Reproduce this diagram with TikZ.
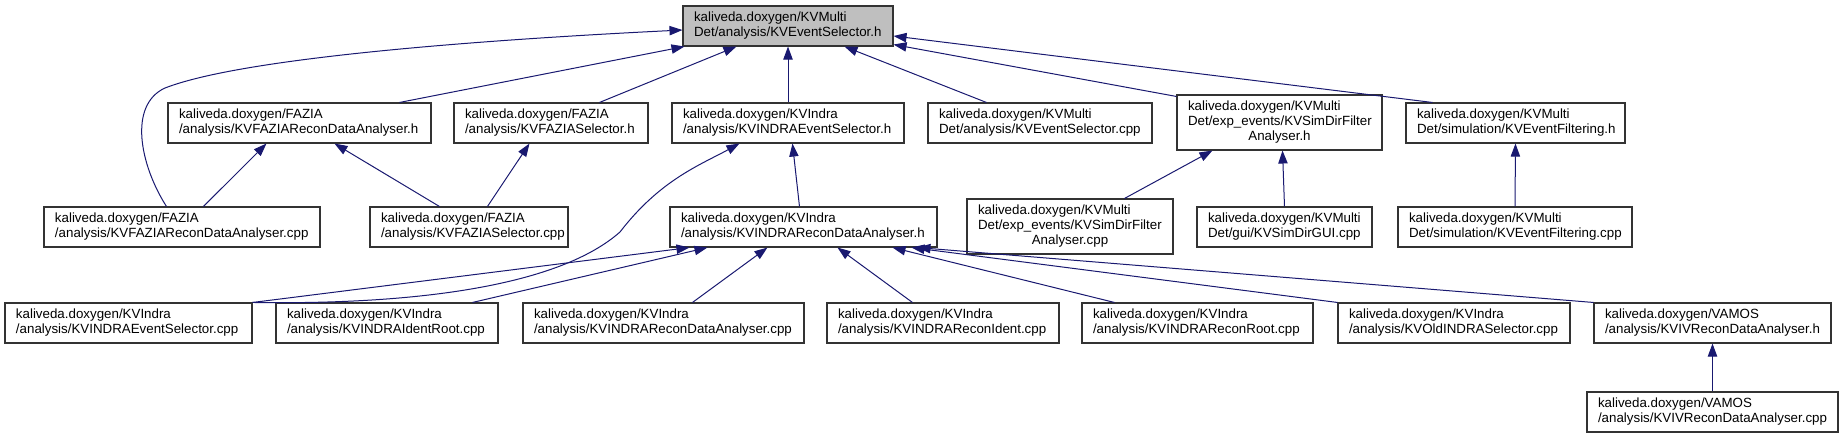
\documentclass[tikz,border=0pt]{standalone}
\usepackage{fontspec}
\setmainfont{Liberation Sans}
\usetikzlibrary{arrows.meta, calc}
\hyphenpenalty=10000
\exhyphenpenalty=10000
\definecolor{edge}{HTML}{191970}
\definecolor{frame}{HTML}{333333}
\definecolor{focusbg}{HTML}{BFBFBF}
\tikzset{
  file/.style={
    draw=frame,
    fill=white,
    line width=0.8pt,
    align=left,
    inner xsep=8.25pt,
    inner ysep=0pt,
    minimum height=30pt,
    font=\fontsize{10pt}{11.25pt}\selectfont
  },
  tall/.style={file, minimum height=41.25pt},
  focus/.style={file, fill=focusbg},
  dep/.style={{Triangle[length=9.75pt, width=7pt, fill=edge]}-, line width=0.75pt, draw=edge}
}

\begin{document}
\begin{tikzpicture}[x=0.75pt, y=-0.75pt]

\useasboundingbox (0,0) rectangle (1843,439);

\node[focus, text width=141pt] (evsel) at (788,26) {
  kaliveda.doxygen/KVMulti\\Det/analysis/KVEventSelector.h};

\node[file, text width=180.75pt] (faziarecon) at (299.5,123) {
  kaliveda.doxygen/FAZIA\\/analysis/KVFAZIAReconDataAnalyser.h};
\node[file, text width=129pt] (fazsel) at (551,123) {
  kaliveda.doxygen/FAZIA\\/analysis/KVFAZIASelector.h};
\node[file, text width=157.5pt] (indraevsel) at (788,123) {
  kaliveda.doxygen/KVIndra\\/analysis/KVINDRAEventSelector.h};
\node[file, text width=151.5pt] (evselcpp) at (1040,123) {
  kaliveda.doxygen/KVMulti\\Det/analysis/KVEventSelector.cpp};
\node[tall, text width=137.25pt] (simfilt) at (1279.5,122.5) {
  kaliveda.doxygen/KVMulti\\Det/exp\_events/KVSimDirFilter\\\makebox[\hsize]{Analyser.h}};
\node[file, text width=147.75pt] (evfilt) at (1515.5,123) {
  kaliveda.doxygen/KVMulti\\Det/simulation/KVEventFiltering.h};

\node[file, text width=190.5pt] (faziareconcpp) at (182,227) {
  kaliveda.doxygen/FAZIA\\/analysis/KVFAZIAReconDataAnalyser.cpp};
\node[file, text width=132pt] (fazselcpp) at (469,227) {
  kaliveda.doxygen/FAZIA\\/analysis/KVFAZIASelector.cpp};
\node[file, text width=183.75pt] (indrarecon) at (803.5,227) {
  kaliveda.doxygen/KVIndra\\/analysis/KVINDRAReconDataAnalyser.h};
\node[tall, text width=138pt] (simfiltcpp) at (1070,226.5) {
  kaliveda.doxygen/KVMulti\\Det/exp\_events/KVSimDirFilter\\\makebox[\hsize]{Analyser.cpp}};
\node[file, text width=114.75pt] (simgui) at (1284.5,227) {
  kaliveda.doxygen/KVMulti\\Det/gui/KVSimDirGUI.cpp};
\node[file, text width=159pt] (evfiltcpp) at (1515,227) {
  kaliveda.doxygen/KVMulti\\Det/simulation/KVEventFiltering.cpp};

\node[file, text width=168.75pt] (indraevselcpp) at (128.5,323) {
  kaliveda.doxygen/KVIndra\\/analysis/KVINDRAEventSelector.cpp};
\node[file, text width=150pt] (identroot) at (387,323) {
  kaliveda.doxygen/KVIndra\\/analysis/KVINDRAIdentRoot.cpp};
\node[file, text width=194.25pt] (indrareconcpp) at (663.5,323) {
  kaliveda.doxygen/KVIndra\\/analysis/KVINDRAReconDataAnalyser.cpp};
\node[file, text width=157.5pt] (reconident) at (943,323) {
  kaliveda.doxygen/KVIndra\\/analysis/KVINDRAReconIdent.cpp};
\node[file, text width=156.75pt] (reconroot) at (1197.5,323) {
  kaliveda.doxygen/KVIndra\\/analysis/KVINDRAReconRoot.cpp};
\node[file, text width=157.5pt] (oldsel) at (1454,323) {
  kaliveda.doxygen/KVIndra\\/analysis/KVOldINDRASelector.cpp};
\node[file, text width=161.25pt] (ivrecon) at (1712.5,323) {
  kaliveda.doxygen/VAMOS\\/analysis/KVIVReconDataAnalyser.h};

\node[file, text width=171.75pt] (ivreconcpp) at (1712.5,412) {
  kaliveda.doxygen/VAMOS\\/analysis/KVIVReconDataAnalyser.cpp};

\draw[dep] ($(evsel.west)+(0,4)$) .. controls (520,38) and (250,55) .. (165,88)
  .. controls (128,105) and (140,165) .. ($(faziareconcpp.north west)+(123,0)$);
\draw[dep] ($(evsel.south west)+(2,0)$) -- ($(faziarecon.north west)+(232,0)$);
\draw[dep] ($(evsel.south west)+(54,0)$) -- ($(fazsel.north west)+(146,0)$);
\draw[dep] (evsel.south) -- (indraevsel.north);
\draw[dep] ($(evsel.south west)+(162,0)$) -- ($(evselcpp.north west)+(59,0)$);
\draw[dep] ($(evsel.south east)+(0,-2)$) -- ($(simfilt.north west)+(0,2)$);
\draw[dep] ($(evsel.east)+(0,10)$) -- ($(evfilt.north west)+(27,0)$);

\draw[dep] ($(faziarecon.south west)+(99,0)$) -- ($(faziareconcpp.north west)+(160,0)$);
\draw[dep] ($(faziarecon.south west)+(167,0)$) -- ($(fazselcpp.north west)+(70,0)$);
\draw[dep] ($(fazsel.south west)+(76,0)$) -- ($(fazselcpp.north west)+(118,0)$);
\draw[dep] ($(indraevsel.south west)+(68,0)$) .. controls (700,165) and (660,180) .. (620,232)
  .. controls (560,285) and (420,305) .. (indraevselcpp.north east);
\draw[dep] ($(indraevsel.south west)+(121,0)$) -- ($(indrarecon.north west)+(130,0)$);
\draw[dep] ($(simfilt.south west)+(36,0)$) -- ($(simfiltcpp.north west)+(158,0)$);
\draw[dep] ($(simfilt.south)+(3,0)$) -- (simgui.north);
\draw[dep] (evfilt.south) -- (evfiltcpp.north);

\draw[dep] ($(indrarecon.south west)+(20,0)$) -- (indraevselcpp.north east);
\draw[dep] ($(indrarecon.south west)+(38,0)$) -- ($(identroot.north west)+(197,0)$);
\draw[dep] ($(indrarecon.south west)+(98,0)$) -- ($(indrareconcpp.north west)+(170,0)$);
\draw[dep] ($(indrarecon.south west)+(168,0)$) -- ($(reconident.north west)+(86,0)$);
\draw[dep] ($(indrarecon.south west)+(223,0)$) -- ($(reconroot.north west)+(33,0)$);
\draw[dep] ($(indrarecon.south west)+(242,0)$) -- (oldsel.north west);
\draw[dep] ($(indrarecon.south west)+(248,0)$) -- (ivrecon.north west);
\draw[dep] (ivrecon.south) -- (ivreconcpp.north);

\end{tikzpicture}
\end{document}
